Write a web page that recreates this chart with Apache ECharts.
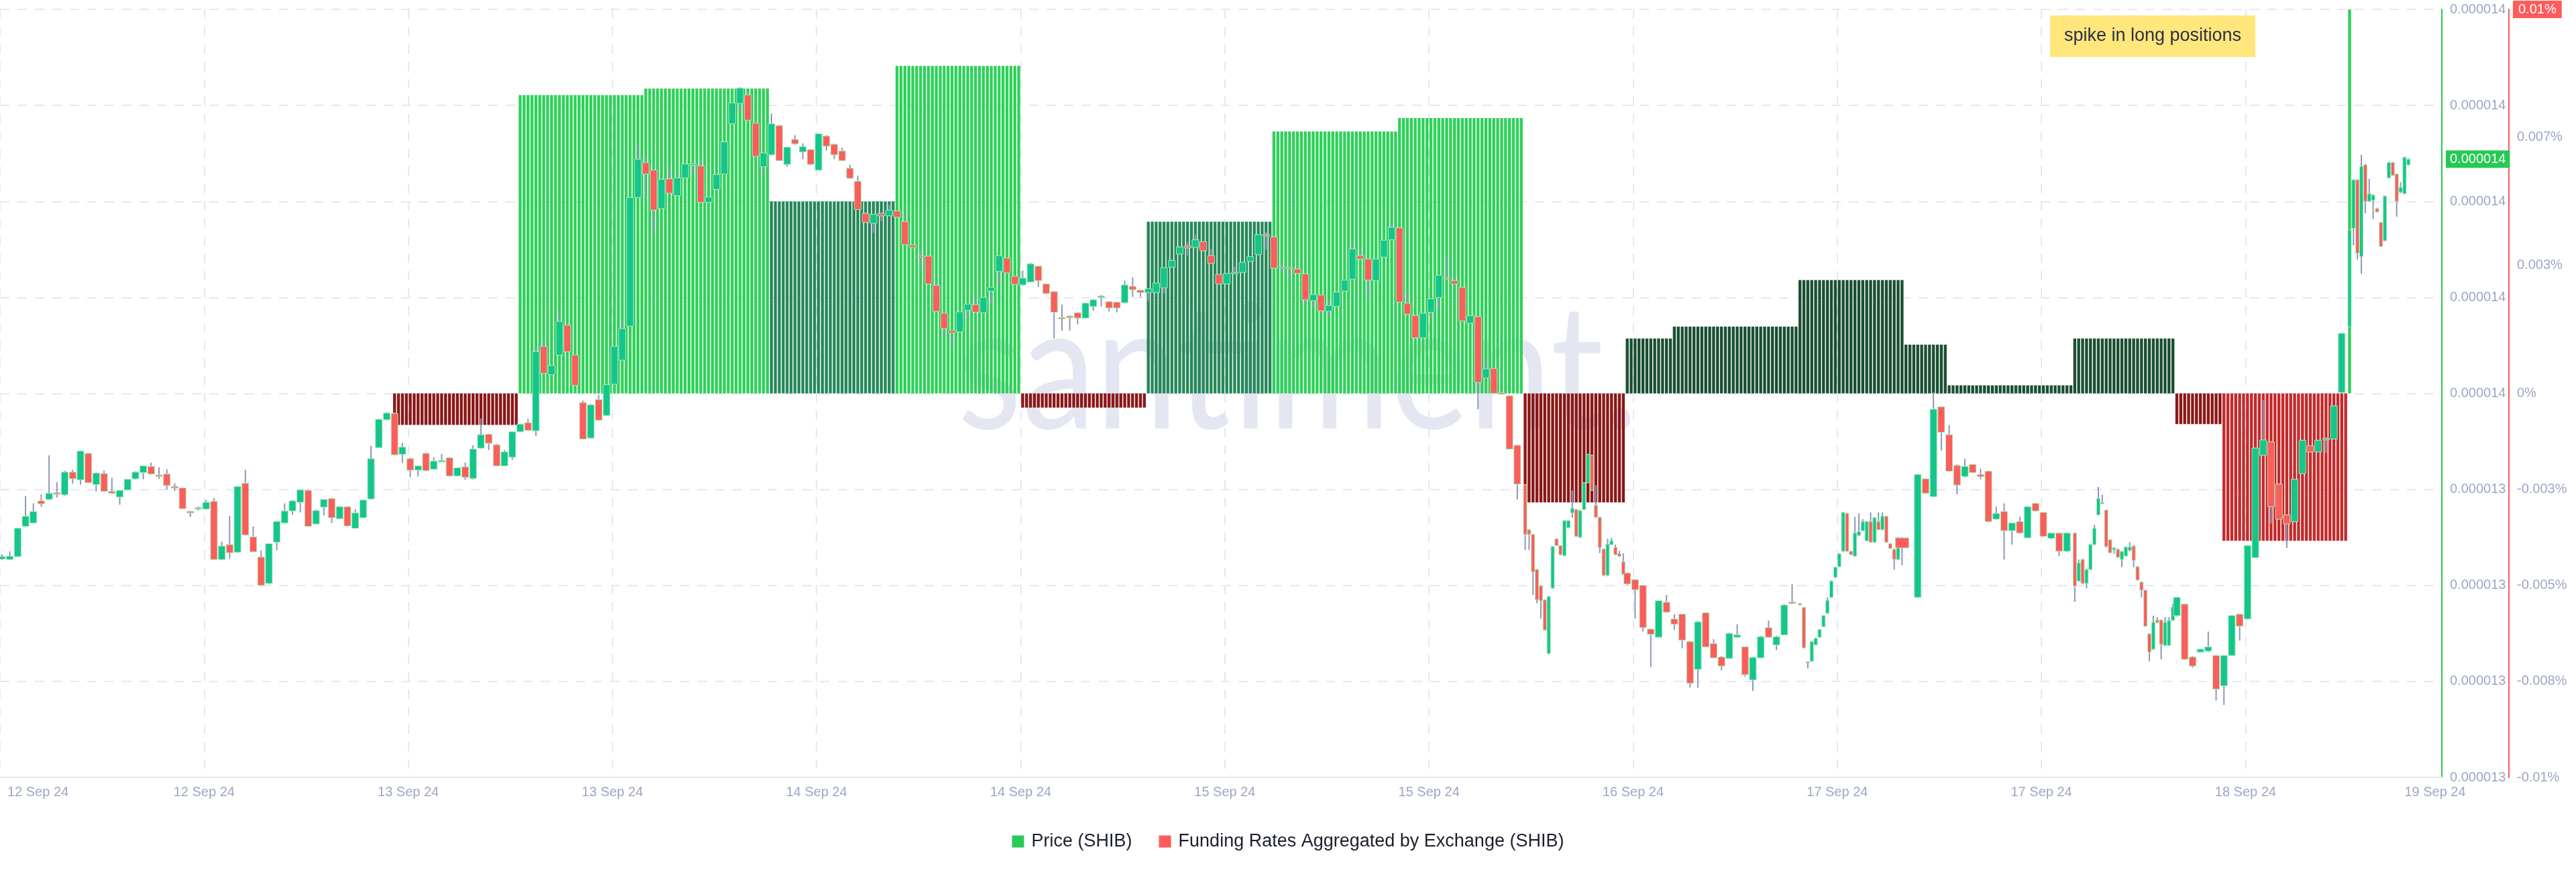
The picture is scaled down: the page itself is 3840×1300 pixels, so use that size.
<!DOCTYPE html>
<html><head><meta charset="utf-8">
<script src="https://cdn.jsdelivr.net/npm/echarts@6/dist/echarts.min.js"></script>
<style>html,body{margin:0;padding:0;background:#fff}#c{width:3840px;height:1300px}</style>
</head><body><div id="c"></div>
<script>
// time unit: one slot = 15 minutes, slot 0 = first candle (12 Sep 24)
// candle timeline segments: [first slot, slots per candle, candle count]
const candleTimeline = [[0,2,194],[388,1,26],[414,2,22],[458,1,27],[488,2,20],[528,1,26],[554,2,22],[598,1,16]];

// SHIB price, units of 1e-9 USD
const priceOpen = [
13255,13254,13260,13323,13330,13376,13379,13393,13389,13436,13420,13475,13410,13433,13396,13384,13399,13422,13435,13448,
13430,13432,13406,13403,13354,13360,13359,13375,13254,13285,13269,13413,13301,13259,13204,13290,13330,13355,13373,13398,
13328,13363,13381,13339,13364,13319,13341,13380,13487,13545,13558,13473,13464,13440,13475,13442,13458,13466,13428,13447,
13423,13486,13515,13493,13449,13467,13520,13539,13522,13698,13639,13680,13742,13680,13581,13507,13587,13554,13619,13669,
13740,14008,14081,14065,13985,14047,14012,14049,14077,14074,13998,14025,14057,14162,14204,14222,14163,14072,14097,14158,
14077,14129,14103,14108,14065,14136,14119,14105,14069,14042,13975,13954,13975,13970,13980,13958,13909,13887,13886,13825,
13767,13731,13728,13773,13785,13768,13813,13854,13882,13844,13826,13832,13865,13828,13812,13758,13761,13768,13757,13781,
13801,13791,13790,13789,13823,13815,13810,13810,13820,13863,13890,13907,13904,13916,13887,13848,13828,13851,13852,13875,
13889,13931,13926,13862,13862,13859,13849,13793,13805,13771,13781,13813,13838,13887,13880,13835,13884,13920,13945,13788,
13762,13716,13769,13800,13841,13835,13821,13746,13760,13632,13652,13601,13595,13492,
13410,13316,13306,13233,13199,13170,13058,13194,13297,13283,13262,13320,13351,13358,13300,13358,13414,13471,13367,13342,13276,13221,13285,13279,13266,13249,
13226,13212,13200,13109,13092,13165,13130,13140,13083,13025,13143,13079,13051,13048,13092,13072,13003,13049,13112,13076,13097,13165,
13162,13154,13041,13042,13076,13092,13114,13142,13175,13217,13239,13271,13350,13271,13261,13304,13314,13293,13333,13290,13333,13316,13344,13287,13275,13254,13299,
13175,13422,13385,13572,13514,13450,13427,13452,13431,13438,13338,13354,13314,13333,13299,13371,13352,13298,13309,13271,
13309,13209,13254,13204,13233,13285,13347,13373,13357,13295,13274,13275,13254,13261,13273,13282,13239,13207,13190,13099,13067,13128,13128,13075,13075,13127,
13137,13161,13051,13061,13063,13054,12991,13054,13140,13130,13258,13471,13499,13411,13347,13333,13433,13491,13478,13504,13505,13602,
13739,13944,14045,13885,14076,14000,14002,13985,13956,13918,14049,14081,14057,14019,14016,14076];
const priceHigh = [
13265,13271,13320,13386,13371,13390,13471,13415,13439,13441,13481,13476,13435,13439,13424,13399,13422,13438,13450,13456,
13446,13442,13413,13404,13355,13364,13378,13382,13291,13345,13407,13441,13323,13273,13288,13334,13371,13378,13400,13400,
13358,13380,13382,13365,13365,13359,13379,13491,13547,13561,13561,13497,13466,13450,13477,13467,13474,13467,13446,13456,
13492,13548,13516,13495,13482,13521,13537,13547,13698,13712,13659,13769,13743,13681,13585,13578,13597,13620,13700,13751,
14009,14119,14097,14066,14047,14071,14062,14083,14084,14089,14010,14057,14125,14206,14238,14226,14164,14102,14183,14159,
14114,14138,14121,14109,14142,14138,14120,14112,14076,14054,13977,13974,13976,13993,13981,13973,13910,13902,13887,13835,
13768,13732,13771,13788,13803,13801,13823,13889,13883,13845,13856,13872,13866,13829,13813,13785,13763,13769,13789,13796,
13805,13792,13791,13835,13842,13816,13819,13831,13863,13879,13907,13915,13931,13917,13901,13849,13851,13864,13875,13886,
13932,13936,13927,13873,13863,13866,13850,13807,13806,13792,13812,13837,13912,13901,13882,13881,13920,13955,13946,13813,
13763,13768,13798,13847,13885,13842,13823,13763,13761,13666,13653,13602,13596,13493,
13411,13317,13307,13234,13200,13171,13178,13282,13298,13284,13336,13336,13398,13359,13357,13415,13474,13473,13409,13343,13277,13297,13299,13285,13272,13267,
13227,13213,13201,13110,13169,13180,13140,13141,13084,13126,13144,13088,13053,13102,13119,13073,13051,13095,13127,13095,13161,13203,
13163,13155,13042,13084,13091,13109,13138,13175,13210,13239,13267,13353,13351,13272,13343,13350,13338,13334,13352,13342,13352,13352,13345,13288,13277,13301,13301,
13432,13423,13602,13573,13534,13452,13464,13453,13443,13439,13364,13371,13331,13343,13365,13372,13353,13310,13310,13310,
13310,13254,13256,13235,13287,13326,13405,13389,13358,13296,13280,13277,13272,13281,13290,13284,13240,13208,13191,13100,13137,13134,13129,13134,13134,13162,
13176,13162,13053,13068,13104,13055,13055,13138,13141,13284,13487,13586,13501,13413,13348,13422,13504,13492,13504,13509,13575,13726,
13942,14046,14046,14097,14078,14047,14015,13987,13957,14012,14082,14082,14058,14040,14093,14089];
const priceLow = [
13253,13253,13259,13322,13329,13364,13378,13383,13387,13412,13410,13413,13396,13395,13391,13368,13398,13421,13421,13431,
13422,13399,13397,13359,13343,13356,13358,13253,13253,13256,13268,13304,13269,13199,13203,13273,13329,13347,13352,13322,
13327,13346,13330,13338,13323,13318,13340,13379,13486,13544,13471,13455,13426,13427,13438,13441,13457,13426,13427,13420,
13421,13485,13482,13448,13448,13462,13519,13522,13511,13641,13638,13679,13686,13616,13504,13506,13543,13553,13618,13667,
13739,14006,14006,13934,13984,14016,14010,14048,14052,13997,13997,14020,14056,14160,14183,14168,14092,14057,14096,14084,
14072,14118,14088,14076,14064,14106,14088,14084,14047,13982,13955,13934,13959,13969,13966,13909,13903,13861,13827,13769,
13720,13695,13726,13757,13768,13767,13786,13827,13849,13826,13824,13831,13822,13807,13715,13731,13731,13744,13756,13772,
13781,13771,13769,13788,13801,13801,13792,13809,13808,13862,13889,13887,13903,13896,13870,13827,13827,13848,13851,13874,
13887,13899,13860,13852,13841,13849,13785,13778,13765,13760,13779,13812,13837,13879,13795,13834,13883,13919,13789,13764,
13711,13715,13757,13774,13838,13827,13750,13744,13567,13631,13599,13599,13483,13379,
13274,13274,13180,13163,13131,13106,13057,13193,13282,13263,13261,13319,13341,13301,13299,13357,13413,13397,13341,13267,13219,13219,13284,13263,13259,13222,
13201,13131,13104,13030,13091,13143,13107,13069,12987,12987,13071,13048,13023,13047,13091,13010,12980,13048,13091,13065,13096,13162,
13158,13069,13027,13041,13075,13091,13113,13141,13174,13215,13238,13270,13270,13263,13260,13303,13313,13292,13289,13289,13315,13315,13289,13276,13233,13253,13242,
13174,13391,13384,13481,13437,13390,13425,13434,13421,13331,13337,13254,13285,13308,13298,13354,13301,13296,13261,13270,
13166,13208,13203,13194,13232,13284,13346,13369,13279,13267,13266,13257,13238,13260,13271,13238,13210,13175,13114,13042,13066,13121,13046,13074,13074,13126,
13135,13045,13028,13060,13061,12960,12951,13053,13085,13129,13257,13470,13329,13337,13278,13331,13432,13477,13477,13476,13504,13601,
13737,13908,13879,13849,13975,13999,13963,13977,13905,13917,14048,14053,13968,14017,14015,14075];
const priceClose = [
13260,13261,13319,13344,13354,13370,13392,13390,13436,13422,13480,13414,13434,13396,13392,13398,13421,13436,13449,13432,
13429,13408,13406,13360,13354,13362,13373,13254,13282,13268,13406,13305,13270,13200,13287,13333,13355,13376,13399,13323,
13356,13379,13341,13364,13324,13351,13378,13464,13546,13559,13472,13488,13440,13449,13439,13459,13460,13428,13445,13425,
13484,13514,13496,13449,13478,13520,13536,13523,13687,13642,13658,13750,13687,13617,13505,13576,13544,13618,13698,13735,
14008,14088,14057,13982,14046,14017,14049,14078,14078,13998,14009,14056,14124,14205,14236,14169,14094,14101,14162,14085,
14113,14120,14114,14077,14141,14115,14097,14085,14048,13983,13956,13973,13970,13982,13967,13910,13904,13886,13828,13771,
13735,13726,13770,13786,13769,13800,13821,13887,13851,13827,13840,13870,13835,13808,13769,13756,13758,13757,13788,13795,
13803,13778,13778,13826,13816,13810,13818,13830,13862,13877,13905,13903,13920,13897,13871,13828,13850,13852,13873,13885,
13931,13928,13861,13864,13861,13850,13795,13806,13772,13783,13811,13836,13901,13880,13836,13880,13919,13946,13790,13765,
13716,13767,13797,13846,13839,13828,13751,13762,13623,13651,13600,13600,13484,13411,
13306,13306,13228,13170,13168,13107,13177,13281,13283,13264,13335,13335,13361,13302,13356,13414,13473,13398,13342,13279,13221,13286,13293,13264,13261,13223,
13203,13191,13112,13098,13168,13144,13119,13086,12996,13124,13072,13049,13032,13100,13097,13014,13050,13093,13092,13093,13159,13163,
13160,13070,13039,13083,13090,13108,13137,13169,13209,13238,13266,13352,13271,13264,13309,13312,13333,13333,13290,13341,13316,13344,13290,13277,13254,13299,13278,
13431,13392,13567,13519,13438,13409,13448,13435,13427,13333,13350,13314,13330,13309,13364,13355,13302,13309,13271,13309,
13199,13247,13204,13233,13285,13319,13381,13371,13281,13268,13278,13259,13271,13280,13280,13252,13211,13190,13115,13061,13123,13123,13077,13123,13127,13155,
13175,13046,13032,13067,13072,12984,13054,13137,13115,13283,13486,13503,13364,13338,13328,13421,13502,13478,13502,13506,13574,13725,
13941,14045,13892,14073,14000,14016,14013,13978,13906,14011,14081,14054,14000,14029,14092,14088];

// funding rate blocks (percent), first and last slot of each block
const fundingStart = [100,132,164,196,228,260,292,324,356,388,414,426,458,485,496,528,554,566,598];
const fundingEnd   = [131,163,195,227,259,291,323,355,387,413,425,457,484,495,527,553,565,597,598];
const fundingRate  = [-0.00082,0.00777,0.00794,0.0050,0.00853,-0.00037,0.00447,0.00682,0.00717,-0.00284,0.00143,0.00174,0.00295,0.00127,0.00021,0.00143,-0.00080,-0.00384,0.0100];

const xTickLabels = ['12 Sep 24','12 Sep 24','13 Sep 24','13 Sep 24','14 Sep 24','14 Sep 24','15 Sep 24','15 Sep 24','16 Sep 24','17 Sep 24','17 Sep 24','18 Sep 24','19 Sep 24'];
const fundingTicks = [-0.01,-0.0075,-0.005,-0.0025,0,0.0033333,0.0066667,0.01];

// ---------- build ----------
const candleTime = [];
candleTimeline.forEach(([s, step, n]) => { for (let i = 0; i < n; i++) candleTime.push(s + i * step); });
const candleData = candleTime.map((t, i) => {
  const next = i + 1 < candleTime.length ? candleTime[i + 1] : t + 1;
  return [t + 0.5, priceOpen[i], priceClose[i], priceLow[i], priceHigh[i], next - t];
});
const fundingData = [];
fundingStart.forEach((s, b) => { for (let j = s; j <= fundingEnd[b]; j++) fundingData.push([j + 0.5, fundingRate[b]]); });

const FONT = "'Liberation Sans', Arial, Helvetica, sans-serif";
const AXIS_TXT = '#9da6c3';
const GRID = '#e5e8f2';
const fmtPrice = v => '0.0000' + Math.round(v / 1000);
const fmtRate = v => { const r = Math.sign(v) * Math.round(Math.abs(v) * 1000 + 1e-9) / 1000; return (Object.is(r, -0) ? 0 : r) + '%'; };

function fundColor(v) {
  if (v >= 0.006) return '#2fd05a';
  if (v >= 0.004) return '#26885a';
  if (v >= 0) return '#1b4f32';
  if (v > -0.003) return '#8a1818';
  return '#c42a2b';
}

function renderCandle(params, api) {
  const x = api.value(0), o = api.value(1), c = api.value(2), lo = api.value(3), hi = api.value(4), w = api.value(5);
  const top = api.coord([x, Math.max(o, c)]);
  const bot = api.coord([x, Math.min(o, c)]);
  const pH = api.coord([x, hi]);
  const pL = api.coord([x, lo]);
  const bw = Math.max(api.size([w, 0])[0] * 0.86, 3);
  const fill = c > o ? '#14c58c' : (c < o ? '#ff5c5c' : '#d3aa88');
  const h = Math.max(bot[1] - top[1], 2);
  return {
    type: 'group',
    children: [
      { type: 'line', shape: { x1: top[0], y1: pH[1], x2: top[0], y2: pL[1] }, style: { stroke: '#8d97bd', lineWidth: 2 } },
      { type: 'rect', shape: { x: top[0] - bw / 2, y: top[1], width: bw, height: h }, style: { fill: fill, stroke: c === o ? fill : '#a6eab4', lineWidth: 1 } }
    ]
  };
}

const HIDDEN_LINE = { color: 'rgba(0,0,0,0)', width: 0 };

const chart = echarts.init(document.getElementById('c'), null, { renderer: 'canvas' });
chart.setOption({
  animation: false,
  backgroundColor: '#ffffff',
  textStyle: { fontFamily: FONT },
  grid: { left: 0, right: 200, top: 14, bottom: 141 },
  legend: {
    left: 'center', top: 1236, itemWidth: 18, itemHeight: 18, itemGap: 40, icon: 'rect',
    textStyle: { fontSize: 27, color: '#1b1e31', fontFamily: FONT, padding: [0, 0, 0, 6] },
    data: [
      { name: 'Price (SHIB)', itemStyle: { color: '#2cc95a' } },
      { name: 'Funding Rates Aggregated by Exchange (SHIB)', itemStyle: { color: '#ff5b5b' } }
    ]
  },
  xAxis: {
    type: 'value', min: 0, max: 622, interval: 52,
    axisLine: { show: true, onZero: false, lineStyle: { color: '#e3e7f1', width: 2 } },
    axisTick: { show: false },
    splitLine: { show: true, lineStyle: { color: GRID, width: 2, type: [14, 12] } },
    axisLabel: {
      margin: 12, fontSize: 20, color: AXIS_TXT, fontFamily: FONT, alignMinLabel: 'left',
      formatter: v => v === 0 ? '{f|' + xTickLabels[0] + '}' : (v === 622 ? '{l|' + xTickLabels[12] + '}' : xTickLabels[Math.round(v / 52)]),
      rich: {
        f: { fontSize: 20, color: AXIS_TXT, fontFamily: FONT, padding: [0, 0, 0, 11] },
        l: { fontSize: 20, color: AXIS_TXT, fontFamily: FONT, padding: [0, 20, 0, 0] }
      }
    }
  },
  yAxis: [
    {
      type: 'value', position: 'right', min: 12800, max: 14400, interval: 200,
      axisLine: { show: true, onZero: false, lineStyle: { color: '#27c955', width: 2 } },
      axisTick: { show: false },
      splitLine: { show: true, lineStyle: { color: GRID, width: 2, type: [14, 12] } },
      axisLabel: { margin: 12, fontSize: 20, color: AXIS_TXT, fontFamily: FONT, formatter: fmtPrice }
    },
    {
      type: 'value', position: 'right', offset: 100, min: -0.01, max: 0.01,
      axisLine: { show: true, onZero: false, lineStyle: { color: '#ff5b5b', width: 2 } },
      axisTick: { show: false },
      splitLine: { show: false },
      axisLabel: { margin: 12, fontSize: 20, color: AXIS_TXT, fontFamily: FONT, customValues: fundingTicks, formatter: fmtRate }
    }
  ],
  graphic: [
    { type: 'text', z: -1, x: 1935, y: 555, scaleX: 0.85, style: { text: 'santiment.', fontSize: 260, fontFamily: "Lato, 'Open Sans', sans-serif", fill: '#e4e7f2', align: 'center', verticalAlign: 'middle' } },
    { type: 'rect', z: 50, shape: { x: 3056, y: 23, width: 306, height: 62 }, style: { fill: '#ffe77c' } },
    { type: 'text', z: 51, x: 3209, y: 54, style: { text: 'spike in long positions', fontSize: 27, fontFamily: FONT, fill: '#2b2f47', align: 'center', verticalAlign: 'middle' } }
  ],
  series: [
    {
      name: 'Funding Rates Aggregated by Exchange (SHIB)', type: 'bar', yAxisIndex: 1, barWidth: 4.4, z: 2,
      data: fundingData,
      itemStyle: { color: p => fundColor(p.value[1]) },
      markLine: {
        silent: true, symbol: 'none', lineStyle: HIDDEN_LINE,
        label: { show: true, position: 'end', distance: 106, formatter: p => fmtRate(p.value), color: '#fff', backgroundColor: '#ff5b5b', padding: [4, 8, 2, 8], fontSize: 20, fontFamily: FONT },
        data: [{ yAxis: fundingRate[fundingRate.length - 1] }]
      }
    },
    {
      name: 'Price (SHIB)', type: 'custom', yAxisIndex: 0, z: 5, clip: true,
      renderItem: renderCandle,
      encode: { x: 0, y: [1, 2, 3, 4] },
      data: candleData
    },
    {
      name: 'last price', type: 'line', yAxisIndex: 0, data: [[0, priceClose[priceClose.length - 1]], [622, priceClose[priceClose.length - 1]]],
      showSymbol: false, lineStyle: HIDDEN_LINE, silent: true, z: 6,
      markLine: {
        silent: true, symbol: 'none', lineStyle: HIDDEN_LINE,
        label: { show: true, position: 'end', distance: 6, formatter: p => fmtPrice(p.value), color: '#fff', backgroundColor: '#27c955', padding: [4, 6, 2, 6], fontSize: 20, fontFamily: FONT },
        data: [{ yAxis: priceClose[priceClose.length - 1] }]
      }
    }
  ]
});
</script></body></html>
